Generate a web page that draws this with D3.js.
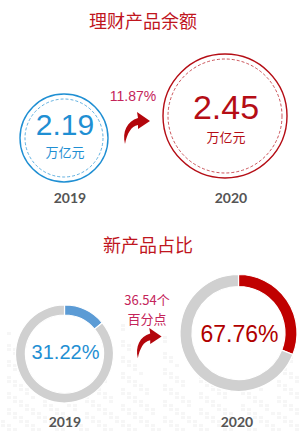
<!DOCTYPE html>
<html>
<head>
<meta charset="utf-8">
<script src="https://cdn.jsdelivr.net/npm/d3@7"></script>
<style>
  html, body { margin: 0; padding: 0; background: #fff; }
  svg { display: block; }
  .cjk { font-family: "Noto Sans CJK SC", "Noto Sans", sans-serif; }
  .num { font-family: "Liberation Sans", Arial, sans-serif; }
  .year { font-family: Lato, "Open Sans", sans-serif; font-weight: 700; fill: #555; }
</style>
</head>
<body>
<div id="chart"></div>
<script>
// ---- data ----
const years = ['2019', '2020'];
const balance = [2.19, 2.45];            // 理财产品余额, 万亿元
const balanceUnit = '万亿元';
const balanceGrowth = '11.87%';
const newShare = [31.22, 67.76];         // 新产品占比, %
const shareChange = ['36.54个', '百分点'];
// share of the ring that is coloured, as drawn in the picture (not to scale with the labels)
const drawnArc = [0.14, 0.31];

const W = 302, H = 434;
const BLUE = '#1f8fd3', RED = '#b50d15', PINK = '#c4245a';

const svg = d3.select('#chart').append('svg')
  .attr('width', W).attr('height', H);

// very faint block texture behind the lower part
const bg = svg.append('g').attr('fill', '#f6f6f6');
for (let col = 0; col < 50; col++) {
  const h = 3 + ((col * 37) % 13) * 2;
  for (let row = 0; row < h; row++) {
    if (((col * 7 + row * 3) % 4) < 2) continue;
    bg.append('rect')
      .attr('x', col * 6 + 1).attr('y', H - 2 - (row + 1) * 4)
      .attr('width', 4).attr('height', 3);
  }
}

// titles
svg.append('text').attr('class', 'cjk')
  .attr('x', 143).attr('y', 28).attr('text-anchor', 'middle')
  .attr('font-size', 18).attr('fill', '#c0161e')
  .text('理财产品余额');
svg.append('text').attr('class', 'cjk')
  .attr('x', 148).attr('y', 252).attr('text-anchor', 'middle')
  .attr('font-size', 18).attr('fill', '#c0161e')
  .text('新产品占比');

// ---- top: balance bubbles ----
const bubbles = [
  { cx: 64, cy: 138, r: 44, color: BLUE, numSize: 30, numY: 135, unitY: 157, yearX: 70 },
  { cx: 225, cy: 116, r: 62, color: RED, numSize: 34, numY: 119, unitY: 142, yearX: 231 }
];
const fmt = d3.format('.2f');

bubbles.forEach((b, i) => {
  const g = svg.append('g');
  g.append('circle').attr('cx', b.cx).attr('cy', b.cy).attr('r', b.r)
    .attr('fill', '#fff').attr('stroke', b.color).attr('stroke-width', 1.4);
  g.append('circle').attr('cx', b.cx).attr('cy', b.cy).attr('r', b.r - 5)
    .attr('fill', 'none').attr('stroke', b.color).attr('stroke-width', 0.7)
    .attr('stroke-dasharray', '3,2');
  g.append('text').attr('class', 'num')
    .attr('x', b.cx + 1).attr('y', b.numY).attr('text-anchor', 'middle')
    .attr('font-size', b.numSize).attr('fill', b.color)
    .text(fmt(balance[i]));
  g.append('text').attr('class', 'cjk')
    .attr('x', b.cx + 1).attr('y', b.unitY).attr('text-anchor', 'middle')
    .attr('font-size', 13).attr('fill', b.color)
    .text(balanceUnit);
  svg.append('text').attr('class', 'year')
    .attr('x', b.yearX).attr('y', 203).attr('text-anchor', 'middle')
    .attr('font-size', 14).text(years[i]);
});

svg.append('text').attr('class', 'num')
  .attr('x', 133).attr('y', 101).attr('text-anchor', 'middle')
  .attr('font-size', 14).attr('fill', PINK).text(balanceGrowth);

// curved arrow
function arrow(x, y, s) {
  svg.append('path')
    .attr('transform', `translate(${x},${y}) scale(${s})`)
    .attr('d', 'M3,34 C0,22 5,11 16,8 L15,2 L28,11 L16,19 L16,15 C9,16 5,24 3,34 Z')
    .attr('fill', '#b3060c');
}
arrow(122, 110, 1);
arrow(135, 326, 0.95);

// ---- bottom: donuts ----
const donuts = [
  { cx: 64.5, cy: 354, R: 49, th: 10, color: '#5b9bd5', text: BLUE, size: 20, ty: 359, yearX: 65 },
  { cx: 238.5, cy: 333, R: 58.5, th: 12, color: '#c00000', text: '#b00000', size: 23, ty: 342, yearX: 237 }
];
const pie = d3.pie().sort(null).value(d => d);
const pctFmt = d => fmt(d) + '%';

donuts.forEach((d, i) => {
  const g = svg.append('g').attr('transform', `translate(${d.cx},${d.cy})`);
  const arc = d3.arc().innerRadius(d.R - d.th).outerRadius(d.R);
  g.append('circle').attr('r', d.R - d.th).attr('fill', '#fff');
  g.selectAll('path')
    .data(pie([drawnArc[i], 1 - drawnArc[i]]))
    .join('path')
      .attr('d', arc)
      .attr('fill', (p, j) => j === 0 ? d.color : '#d0d0d0')
      .attr('stroke', '#fff').attr('stroke-width', 1.2);
  g.append('text').attr('class', 'num')
    .attr('x', 1).attr('y', d.ty - d.cy).attr('text-anchor', 'middle')
    .attr('font-size', d.size).attr('fill', d.text)
    .text(pctFmt(newShare[i]));
  svg.append('text').attr('class', 'year')
    .attr('x', d.yearX).attr('y', 427).attr('text-anchor', 'middle')
    .attr('font-size', 14).text(years[i]);
});

// two-line change label
svg.selectAll('.change').data(shareChange).join('text')
  .attr('class', 'cjk change')
  .attr('x', 147).attr('y', (t, i) => 305 + i * 19)
  .attr('text-anchor', 'middle').attr('font-size', 13).attr('fill', PINK)
  .text(t => t);
</script>
</body>
</html>
